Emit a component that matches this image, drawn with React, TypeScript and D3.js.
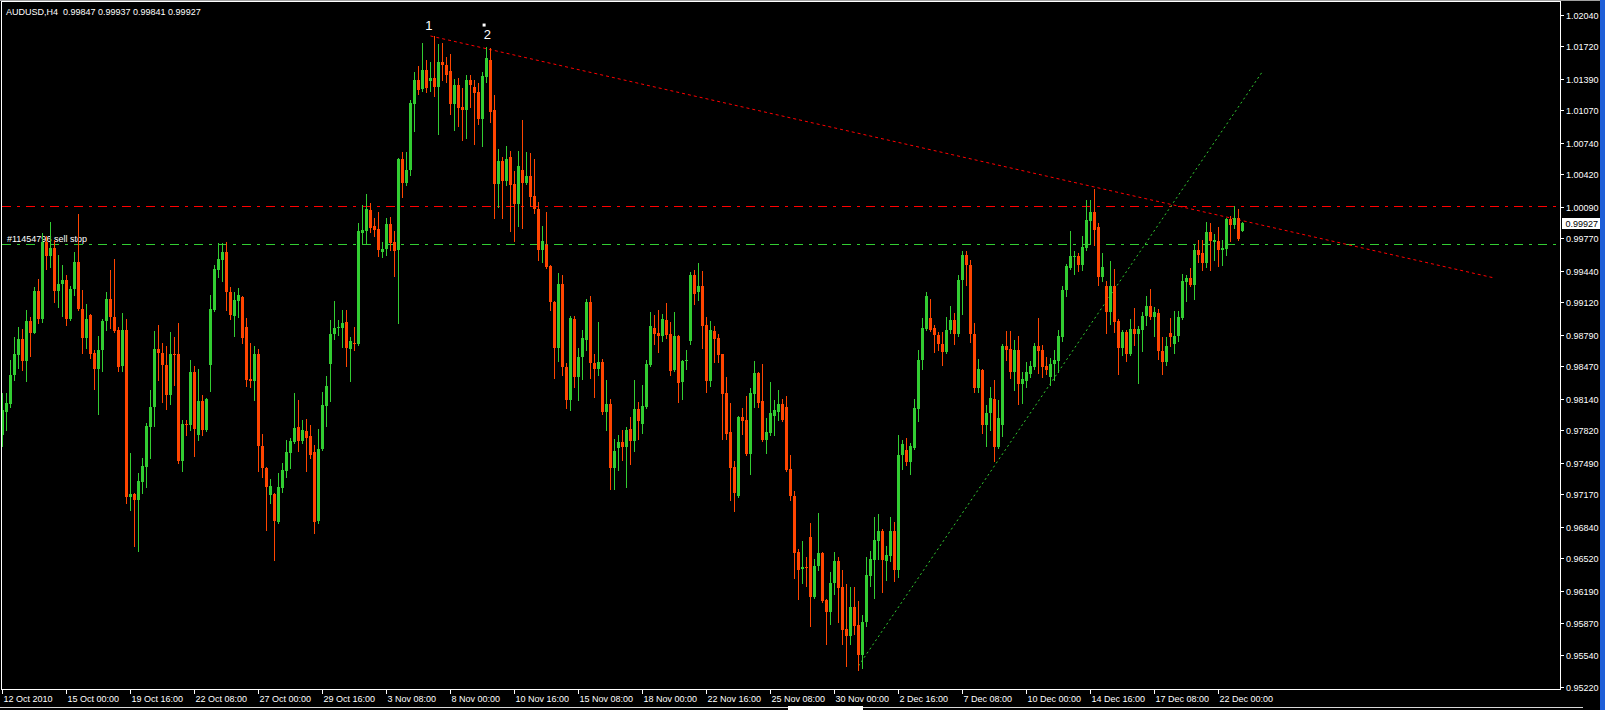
import React from 'react';
import * as d3 from 'd3';

// ---------- data ----------
const headerText = 'AUDUSD,H4  0.99847 0.99937 0.99841 0.99927';
const orderLabel = '#11454796 sell stop';

const priceTickLabels = [
  '1.02040', '1.01720', '1.01390', '1.01070', '1.00740', '1.00420', '1.00090',
  '0.99770', '0.99440', '0.99120', '0.98790', '0.98470', '0.98140', '0.97820',
  '0.97490', '0.97170', '0.96840', '0.96520', '0.96190', '0.95870', '0.95540', '0.95220',
];

const timeTickLabels = [
  '12 Oct 2010', '15 Oct 00:00', '19 Oct 16:00', '22 Oct 08:00', '27 Oct 00:00',
  '29 Oct 16:00', '3 Nov 08:00', '8 Nov 00:00', '10 Nov 16:00', '15 Nov 08:00',
  '18 Nov 00:00', '22 Nov 16:00', '25 Nov 08:00', '30 Nov 00:00', '2 Dec 16:00',
  '7 Dec 08:00', '10 Dec 00:00', '14 Dec 16:00', '17 Dec 08:00', '22 Dec 00:00',
];
const barsPerTimeTick = 16;

// [open, high, low, close] H4 bars
const octoberBars = [
  [0.9777, 0.9820, 0.9766, 0.9803], [0.9801, 0.9820, 0.9782, 0.9810], [0.9809, 0.9853, 0.9806, 0.9838],
  [0.9838, 0.9877, 0.9833, 0.9859], [0.9858, 0.9887, 0.9845, 0.9875], [0.9875, 0.9885, 0.9843, 0.9852],
  [0.9852, 0.9904, 0.9832, 0.9893], [0.9893, 0.9897, 0.9857, 0.9881], [0.9881, 0.9927, 0.9881, 0.9923],
  [0.9923, 0.9936, 0.9891, 0.9895], [0.9895, 0.9982, 0.9892, 0.9973], [0.9973, 0.9979, 0.9946, 0.9959],
  [0.9959, 0.9993, 0.9948, 0.9967], [0.9967, 0.9975, 0.9912, 0.9923], [0.9923, 0.9960, 0.9907, 0.9931],
  [0.9931, 0.9950, 0.9898, 0.9935], [0.9935, 0.9940, 0.9889, 0.9895], [0.9895, 0.9929, 0.9894, 0.9925],
  [0.9925, 0.9963, 0.9919, 0.9953], [0.9953, 1.0002, 0.9904, 0.9905], [0.9905, 0.9924, 0.9861, 0.9876],
  [0.9876, 0.9910, 0.9866, 0.9895], [0.9899, 0.9900, 0.9855, 0.9860], [0.9861, 0.9864, 0.9824, 0.9844],
  [0.9844, 0.9878, 0.9799, 0.9864], [0.9864, 0.9895, 0.9842, 0.9893], [0.9893, 0.9922, 0.9884, 0.9915],
  [0.9915, 0.9945, 0.9886, 0.9897], [0.9897, 0.9956, 0.9882, 0.9883], [0.9884, 0.9887, 0.9842, 0.9846],
  [0.9847, 0.9901, 0.9842, 0.9884], [0.9884, 0.9895, 0.9708, 0.9714], [0.9714, 0.9759, 0.9701, 0.9717],
  [0.9717, 0.9718, 0.9665, 0.9711], [0.9711, 0.9739, 0.9660, 0.9731], [0.9730, 0.9754, 0.9718, 0.9746],
  [0.9745, 0.9789, 0.9725, 0.9786], [0.9785, 0.9823, 0.9754, 0.9806], [0.9806, 0.9883, 0.9786, 0.9865],
  [0.9865, 0.9889, 0.9833, 0.9861], [0.9861, 0.9871, 0.9811, 0.9848], [0.9848, 0.9868, 0.9804, 0.9818],
  [0.9818, 0.9882, 0.9809, 0.9860], [0.9860, 0.9877, 0.9828, 0.9859], [0.9860, 0.9891, 0.9749, 0.9751],
  [0.9751, 0.9793, 0.9741, 0.9788], [0.9788, 0.9793, 0.9777, 0.9787], [0.9787, 0.9853, 0.9782, 0.9841],
  [0.9841, 0.9847, 0.9756, 0.9783], [0.9777, 0.9844, 0.9772, 0.9812], [0.9812, 0.9818, 0.9777, 0.9782],
  [0.9782, 0.9815, 0.9781, 0.9814], [0.9848, 0.9919, 0.9822, 0.9905], [0.9904, 0.9950, 0.9903, 0.9946],
  [0.9945, 0.9972, 0.9938, 0.9956], [0.9955, 0.9972, 0.9934, 0.9963], [0.9963, 0.9973, 0.9904, 0.9922],
  [0.9922, 0.9927, 0.9895, 0.9899], [0.9898, 0.9922, 0.9878, 0.9914], [0.9913, 0.9926, 0.9897, 0.9919],
  [0.9917, 0.9918, 0.9871, 0.9876], [0.9887, 0.9896, 0.9827, 0.9833], [0.9834, 0.9871, 0.9826, 0.9832],
  [0.9832, 0.9868, 0.9813, 0.9860], [0.9860, 0.9865, 0.9741, 0.9766], [0.9766, 0.9778, 0.9735, 0.9744],
  [0.9744, 0.9745, 0.9681, 0.9725], [0.9716, 0.9733, 0.9708, 0.9726], [0.9717, 0.9718, 0.9650, 0.9690],
  [0.9689, 0.9739, 0.9688, 0.9725], [0.9724, 0.9749, 0.9719, 0.9742], [0.9741, 0.9772, 0.9735, 0.9760],
  [0.9759, 0.9774, 0.9744, 0.9771], [0.9770, 0.9820, 0.9769, 0.9784], [0.9785, 0.9813, 0.9761, 0.9771],
  [0.9771, 0.9793, 0.9769, 0.9782], [0.9781, 0.9794, 0.9741, 0.9774], [0.9776, 0.9787, 0.9754, 0.9757],
  [0.9760, 0.9767, 0.9678, 0.9689], [0.9690, 0.9783, 0.9688, 0.9763], [0.9763, 0.9821, 0.9762, 0.9808],
  [0.9807, 0.9837, 0.9786, 0.9827],
];

const novemberBars = [
  [0.9849, 0.9894, 0.9812, 0.9880], [0.9880, 0.9913, 0.9875, 0.9886], [0.9886, 0.9894, 0.9879, 0.9887],
  [0.9886, 0.9904, 0.9867, 0.9891], [0.9892, 0.9904, 0.9847, 0.9866], [0.9865, 0.9877, 0.9832, 0.9873],
  [0.9871, 0.9887, 0.9864, 0.9870], [0.9870, 0.9992, 0.9869, 0.9984], [0.9982, 1.0011, 0.9972, 0.9985],
  [0.9984, 1.0022, 0.9972, 1.0007], [1.0006, 1.0013, 0.9983, 0.9987], [0.9989, 0.9997, 0.9979, 0.9985],
  [0.9986, 1.0004, 0.9959, 0.9965], [0.9963, 0.9973, 0.9958, 0.9966], [0.9966, 0.9997, 0.9960, 0.9991],
  [0.9991, 0.9999, 0.9965, 0.9972], [0.9973, 0.9984, 0.9939, 0.9964], [0.9965, 1.0058, 0.9891, 1.0057],
  [1.0057, 1.0064, 1.0019, 1.0033], [1.0033, 1.0064, 1.0031, 1.0046], [1.0046, 1.0117, 1.0041, 1.0114],
  [1.0113, 1.0146, 1.0086, 1.0138], [1.0138, 1.0152, 1.0123, 1.0127], [1.0128, 1.0175, 1.0126, 1.0148],
  [1.0148, 1.0158, 1.0125, 1.0129], [1.0137, 1.0156, 1.0126, 1.0140], [1.0140, 1.0182, 1.0121, 1.0130],
  [1.0130, 1.0174, 1.0083, 1.0156], [1.0156, 1.0175, 1.0138, 1.0153], [1.0153, 1.0161, 1.0135, 1.0143],
  [1.0147, 1.0164, 1.0103, 1.0113], [1.0113, 1.0139, 1.0087, 1.0132], [1.0132, 1.0140, 1.0091, 1.0109],
  [1.0110, 1.0129, 1.0077, 1.0107], [1.0107, 1.0143, 1.0079, 1.0138], [1.0138, 1.0143, 1.0110, 1.0132],
  [1.0130, 1.0138, 1.0073, 1.0124], [1.0125, 1.0134, 1.0093, 1.0098], [1.0098, 1.0146, 1.0071, 1.0142],
  [1.0141, 1.0171, 1.0136, 1.0160], [1.0158, 1.0170, 1.0095, 1.0105], [1.0107, 1.0122, 0.9997, 1.0032],
  [1.0032, 1.0068, 1.0009, 1.0055], [1.0055, 1.0059, 0.9997, 1.0035], [1.0035, 1.0071, 1.0031, 1.0057],
  [1.0059, 1.0065, 0.9984, 1.0031], [1.0032, 1.0045, 0.9974, 1.0012], [1.0012, 1.0065, 0.9989, 1.0050],
  [1.0046, 1.0097, 0.9987, 1.0033], [1.0033, 1.0064, 1.0032, 1.0040], [1.0040, 1.0063, 1.0010, 1.0019],
  [1.0020, 1.0057, 1.0003, 1.0007], [1.0007, 1.0014, 0.9955, 0.9965], [0.9965, 0.9989, 0.9953, 0.9974],
  [0.9970, 1.0004, 0.9947, 0.9948], [0.9949, 0.9950, 0.9904, 0.9912], [0.9912, 0.9913, 0.9835, 0.9866],
  [0.9866, 0.9942, 0.9852, 0.9931], [0.9931, 0.9940, 0.9838, 0.9846], [0.9846, 0.9850, 0.9805, 0.9813],
  [0.9813, 0.9898, 0.9803, 0.9896], [0.9895, 0.9898, 0.9826, 0.9836], [0.9836, 0.9866, 0.9813, 0.9856],
  [0.9856, 0.9884, 0.9834, 0.9876], [0.9874, 0.9915, 0.9864, 0.9912], [0.9912, 0.9918, 0.9835, 0.9850],
  [0.9850, 0.9860, 0.9816, 0.9844], [0.9844, 0.9892, 0.9838, 0.9851], [0.9851, 0.9854, 0.9799, 0.9801],
  [0.9801, 0.9833, 0.9782, 0.9809], [0.9809, 0.9814, 0.9723, 0.9744], [0.9744, 0.9773, 0.9723, 0.9761],
  [0.9764, 0.9777, 0.9742, 0.9770], [0.9770, 0.9782, 0.9752, 0.9765], [0.9765, 0.9785, 0.9725, 0.9782],
  [0.9783, 0.9796, 0.9748, 0.9771], [0.9771, 0.9833, 0.9761, 0.9804], [0.9804, 0.9811, 0.9773, 0.9792],
  [0.9788, 0.9828, 0.9779, 0.9807], [0.9806, 0.9853, 0.9805, 0.9849], [0.9848, 0.9902, 0.9847, 0.9888],
  [0.9886, 0.9899, 0.9870, 0.9880], [0.9881, 0.9904, 0.9862, 0.9878], [0.9878, 0.9900, 0.9873, 0.9895],
  [0.9894, 0.9911, 0.9876, 0.9879], [0.9880, 0.9892, 0.9838, 0.9842], [0.9843, 0.9902, 0.9842, 0.9878],
  [0.9878, 0.9879, 0.9811, 0.9830], [0.9831, 0.9853, 0.9814, 0.9852], [0.9852, 0.9864, 0.9844, 0.9853],
  [0.9873, 0.9943, 0.9870, 0.9940], [0.9940, 0.9945, 0.9910, 0.9920], [0.9922, 0.9952, 0.9914, 0.9929],
  [0.9929, 0.9944, 0.9866, 0.9888], [0.9889, 0.9897, 0.9821, 0.9832], [0.9832, 0.9893, 0.9827, 0.9884],
  [0.9883, 0.9888, 0.9851, 0.9875], [0.9876, 0.9880, 0.9851, 0.9858], [0.9859, 0.9860, 0.9773, 0.9819],
  [0.9820, 0.9836, 0.9773, 0.9778], [0.9780, 0.9810, 0.9711, 0.9744], [0.9745, 0.9751, 0.9700, 0.9718],
  [0.9715, 0.9797, 0.9714, 0.9796], [0.9796, 0.9805, 0.9778, 0.9792], [0.9793, 0.9817, 0.9757, 0.9758],
  [0.9758, 0.9825, 0.9738, 0.9820], [0.9819, 0.9852, 0.9806, 0.9840], [0.9840, 0.9841, 0.9806, 0.9810],
  [0.9812, 0.9849, 0.9771, 0.9772], [0.9772, 0.9795, 0.9759, 0.9780], [0.9779, 0.9831, 0.9777, 0.9800],
  [0.9797, 0.9813, 0.9777, 0.9803], [0.9801, 0.9823, 0.9793, 0.9809], [0.9809, 0.9814, 0.9792, 0.9793],
  [0.9806, 0.9817, 0.9741, 0.9742], [0.9743, 0.9757, 0.9711, 0.9715], [0.9715, 0.9720, 0.9632, 0.9658],
  [0.9659, 0.9662, 0.9611, 0.9640], [0.9641, 0.9670, 0.9627, 0.9643], [0.9643, 0.9654, 0.9624, 0.9642],
  [0.9674, 0.9688, 0.9583, 0.9613], [0.9613, 0.9651, 0.9612, 0.9644], [0.9644, 0.9698, 0.9640, 0.9658],
  [0.9658, 0.9659, 0.9608, 0.9609], [0.9610, 0.9611, 0.9565, 0.9598], [0.9598, 0.9638, 0.9586, 0.9627],
  [0.9627, 0.9659, 0.9616, 0.9649], [0.9649, 0.9654, 0.9588, 0.9622], [0.9623, 0.9640, 0.9565, 0.9579],
  [0.9580, 0.9626, 0.9543, 0.9573], [0.9573, 0.9623, 0.9565, 0.9603], [0.9603, 0.9623, 0.9575, 0.9584],
];

const decemberBars = [
  [0.9585, 0.9609, 0.9539, 0.9554], [0.9554, 0.9595, 0.9541, 0.9588], [0.9588, 0.9654, 0.9584, 0.9635],
  [0.9634, 0.9660, 0.9624, 0.9651], [0.9650, 0.9694, 0.9612, 0.9671], [0.9670, 0.9697, 0.9651, 0.9680],
  [0.9680, 0.9682, 0.9618, 0.9650], [0.9649, 0.9665, 0.9630, 0.9656], [0.9655, 0.9694, 0.9649, 0.9680],
  [0.9680, 0.9689, 0.9629, 0.9640], [0.9640, 0.9777, 0.9633, 0.9757], [0.9757, 0.9772, 0.9743, 0.9768],
  [0.9762, 0.9774, 0.9747, 0.9750], [0.9750, 0.9769, 0.9738, 0.9766], [0.9764, 0.9814, 0.9763, 0.9805],
  [0.9804, 0.9864, 0.9792, 0.9853], [0.9853, 0.9896, 0.9844, 0.9886], [0.9885, 0.9922, 0.9884, 0.9918],
  [0.9896, 0.9915, 0.9883, 0.9884], [0.9886, 0.9889, 0.9862, 0.9879], [0.9879, 0.9882, 0.9864, 0.9870],
  [0.9870, 0.9882, 0.9848, 0.9862], [0.9862, 0.9897, 0.9861, 0.9884], [0.9884, 0.9908, 0.9881, 0.9894],
  [0.9894, 0.9901, 0.9870, 0.9880], [0.9880, 0.9940, 0.9878, 0.9935], [0.9935, 0.9964, 0.9900, 0.9960],
  [0.9960, 0.9964, 0.9930, 0.9950], [0.9950, 0.9955, 0.9872, 0.9880], [0.9880, 0.9891, 0.9821, 0.9825],
  [0.9825, 0.9854, 0.9821, 0.9844], [0.9843, 0.9844, 0.9779, 0.9787], [0.9787, 0.9808, 0.9766, 0.9800],
  [0.9800, 0.9826, 0.9782, 0.9815], [0.9814, 0.9833, 0.9751, 0.9765], [0.9765, 0.9813, 0.9764, 0.9795],
  [0.9787, 0.9870, 0.9776, 0.9868], [0.9868, 0.9883, 0.9853, 0.9864], [0.9865, 0.9883, 0.9835, 0.9841],
  [0.9841, 0.9874, 0.9823, 0.9864], [0.9864, 0.9878, 0.9809, 0.9829], [0.9829, 0.9841, 0.9810, 0.9834],
  [0.9832, 0.9851, 0.9826, 0.9841], [0.9839, 0.9852, 0.9836, 0.9847], [0.9846, 0.9871, 0.9844, 0.9868],
  [0.9868, 0.9896, 0.9840, 0.9863], [0.9864, 0.9869, 0.9836, 0.9846], [0.9847, 0.9856, 0.9839, 0.9843],
  [0.9836, 0.9855, 0.9828, 0.9849], [0.9849, 0.9864, 0.9833, 0.9853], [0.9852, 0.9884, 0.9841, 0.9878],
  [0.9877, 0.9929, 0.9873, 0.9924], [0.9924, 0.9951, 0.9918, 0.9949], [0.9947, 0.9984, 0.9946, 0.9959],
  [0.9958, 0.9964, 0.9941, 0.9959], [0.9959, 0.9962, 0.9944, 0.9950], [0.9950, 0.9979, 0.9945, 0.9968],
  [0.9967, 1.0016, 0.9965, 0.9995], [0.9994, 1.0016, 0.9972, 1.0004], [1.0004, 1.0027, 0.9970, 0.9985],
  [0.9988, 0.9992, 0.9930, 0.9938], [0.9938, 0.9962, 0.9934, 0.9948], [0.9928, 0.9934, 0.9881, 0.9902],
  [0.9902, 0.9954, 0.9890, 0.9928], [0.9928, 0.9946, 0.9882, 0.9892], [0.9893, 0.9895, 0.9839, 0.9866],
  [0.9866, 0.9884, 0.9858, 0.9882], [0.9882, 0.9884, 0.9852, 0.9860], [0.9859, 0.9895, 0.9858, 0.9885],
  [0.9885, 0.9906, 0.9869, 0.9880], [0.9880, 0.9888, 0.9830, 0.9885], [0.9884, 0.9902, 0.9863, 0.9898],
  [0.9898, 0.9918, 0.9889, 0.9908], [0.9908, 0.9925, 0.9895, 0.9897], [0.9897, 0.9907, 0.9878, 0.9902],
  [0.9901, 0.9905, 0.9854, 0.9863], [0.9863, 0.9877, 0.9839, 0.9851], [0.9851, 0.9877, 0.9848, 0.9868],
  [0.9881, 0.9896, 0.9868, 0.9877], [0.9870, 0.9903, 0.9861, 0.9878], [0.9878, 0.9903, 0.9873, 0.9897],
  [0.9896, 0.9941, 0.9895, 0.9934], [0.9933, 0.9940, 0.9913, 0.9937], [0.9937, 0.9947, 0.9929, 0.9930],
  [0.9930, 0.9971, 0.9915, 0.9965], [0.9965, 0.9975, 0.9953, 0.9960], [0.9962, 0.9975, 0.9945, 0.9952],
  [0.9952, 0.9993, 0.9948, 0.9983], [0.9983, 0.9992, 0.9945, 0.9974], [0.9973, 0.9981, 0.9955, 0.9975],
  [0.9974, 0.9988, 0.9949, 0.9965], [0.9965, 0.9975, 0.9950, 0.9967], [0.9966, 0.9998, 0.9960, 0.9996],
  [0.9996, 1.0000, 0.9974, 0.9990], [0.9990, 1.0010, 0.9987, 0.9998], [0.9998, 1.0007, 0.9975, 0.9976],
  [0.99847, 0.99937, 0.99841, 0.99927],
];

const stopLevel = 1.0010;
const sellStopLevel = 0.9971;
const lastPrice = 0.99927;
// trend lines: [bar index, price]
const resistanceTrend = [[107, 1.01822], [373, 0.99366]];
const supportTrend = [[214, 0.9543], [315, 1.01462]];
const waveLabels = [
  { text: '1', bar: 106.6, price: 1.01883 },
  { text: '2', bar: 121.2, price: 1.01792 },
];
const waveMarker = { bar: 120.4, price: 1.01933 };

// ---------- component ----------
const BULL = '#32CD32';
const BEAR = '#FF4500';
const FONT = "'Liberation Sans', Arial, Helvetica, sans-serif";

export default function App() {
  const bars = [...octoberBars, ...novemberBars, ...decemberBars];
  const x = d3.scaleLinear().domain([0, 389.5]).range([2.5, 1560.5]);
  const y = d3.scaleLinear().domain([0.9522, 1.0204]).range([686.6, 14.5]);
  const trendPath = d3
    .line<number[]>()
    .x((d) => x(d[0]))
    .y((d) => y(d[1]));
  const crisp = (v: number) => Math.round(v) + 0.5;

  return (
    <div style={{ position: 'absolute', left: 0, top: 0, width: 1605, height: 710, background: '#000' }}>
      <svg width={1605} height={710} style={{ display: 'block' }} fontFamily={FONT}>
        <rect x={0} y={0} width={1605} height={710} fill="#000" />
        {/* window chrome */}
        <rect x={0} y={0} width={1605} height={1} fill="#a0a0a0" />
        <rect x={1600} y={0} width={5} height={710} fill="#1f5fd8" />
        <line x1={0} x2={1583} y1={707.5} y2={707.5} stroke="#d8d8d8" />
        <rect x={788} y={706} width={75} height={4} fill="#ffffff" />

        {/* order label */}
        <text x={7} y={242} fontSize={9} fill="#ffffff">{orderLabel}</text>

        {/* horizontal levels */}
        <line x1={2} x2={1560} y1={crisp(y(stopLevel))} y2={crisp(y(stopLevel))}
          stroke="#FF0000" strokeDasharray="9,6,3,6" shapeRendering="crispEdges" />
        <line x1={2} x2={1560} y1={crisp(y(sellStopLevel))} y2={crisp(y(sellStopLevel))}
          stroke={BULL} strokeDasharray="9,6,3,6" shapeRendering="crispEdges" />

        {/* trend lines */}
        <path d={trendPath(resistanceTrend) || ''} stroke="#FF0000" strokeDasharray="3,3" fill="none" />
        <path d={trendPath(supportTrend) || ''} stroke={BULL} strokeDasharray="2,3" fill="none" />

        {/* wave labels */}
        {waveLabels.map((w) => (
          <text key={w.text} x={x(w.bar)} y={y(w.price)} fontSize={13} fill="#ffffff" textAnchor="middle">
            {w.text}
          </text>
        ))}
        <rect x={x(waveMarker.bar) - 1.5} y={y(waveMarker.price) - 1.5} width={3} height={3} fill="#ffffff" />

        {/* candles */}
        <g shapeRendering="crispEdges">
          {bars.map(([o, h, l, c], i) => {
            const col = c >= o ? BULL : BEAR;
            const cx = x(i);
            const yTop = Math.round(y(Math.max(o, c)));
            const yBot = Math.round(y(Math.min(o, c)));
            const yH = Math.round(y(h));
            const yL = Math.round(y(l));
            return (
              <g key={i}>
                <rect x={cx - 0.5} y={yH} width={1} height={Math.max(1, yL - yH + 1)} fill={col} />
                <rect x={cx - 1.5} y={yTop} width={3} height={Math.max(1, yBot - yTop)} fill={col} />
              </g>
            );
          })}
        </g>

        {/* header */}
        <text x={6} y={15} fontSize={9} fill="#ffffff" style={{ whiteSpace: 'pre' }}>{headerText}</text>

        {/* frame */}
        <rect x={1.5} y={1.5} width={1559} height={688} fill="none" stroke="#ffffff" shapeRendering="crispEdges" />

        {/* price axis */}
        {priceTickLabels.map((t) => {
          const py = crisp(y(Number(t)));
          return (
            <g key={t}>
              <line x1={1561} x2={1564} y1={py} y2={py} stroke="#ffffff" shapeRendering="crispEdges" />
              <text x={1566} y={py + 3.5} fontSize={9} fill="#ffffff">{t}</text>
            </g>
          );
        })}
        <rect x={1562} y={Math.round(y(lastPrice)) - 5} width={38} height={11} fill="#ffffff" />
        <text x={1565.5} y={Math.round(y(lastPrice)) + 3.5} fontSize={9} fill="#000000">
          {lastPrice.toFixed(5)}
        </text>

        {/* time axis */}
        {timeTickLabels.map((t, k) => {
          const tx = crisp(x(k * barsPerTimeTick) - 0.5);
          return (
            <g key={t}>
              <line x1={tx} x2={tx} y1={689.5} y2={694} stroke="#ffffff" shapeRendering="crispEdges" />
              <text x={tx + 1} y={702} fontSize={9} fill="#ffffff">{t}</text>
            </g>
          );
        })}
      </svg>
    </div>
  );
}
